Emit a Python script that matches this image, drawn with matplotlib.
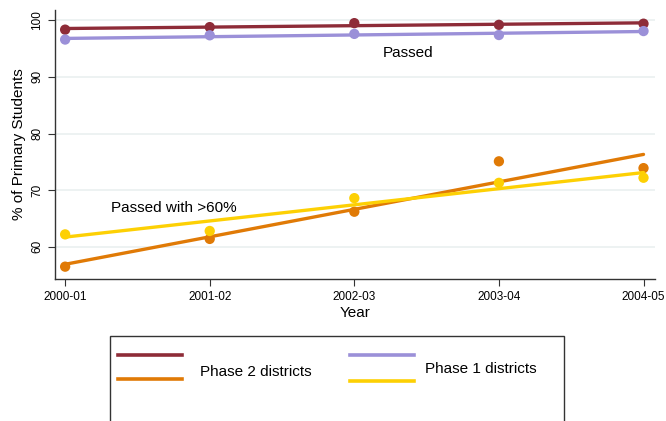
import numpy as np
import matplotlib
matplotlib.use("Agg")
import matplotlib.pyplot as plt
from matplotlib.lines import Line2D
from matplotlib.patches import Rectangle

plt.rcParams['font.family'] = ['Liberation Sans', 'DejaVu Sans']

years = ["2000-01", "2001-02", "2002-03", "2003-04", "2004-05"]
phase2_passed = [98.35, 98.8, 99.5, 99.2, 99.4]
phase1_passed = [96.6, 97.35, 97.6, 97.4, 98.1]
phase2_over60 = [56.5, 61.4, 66.2, 75.1, 73.9]
phase1_over60 = [62.2, 62.8, 68.6, 71.3, 72.2]

c_p2_pass = "#8e2c38"
c_p1_pass = "#9b90d8"
c_p2_60 = "#e07a06"
c_p1_60 = "#fdd004"

fig = plt.figure(figsize=(6.66, 4.21), dpi=100)
ax = fig.add_axes([0.0826, 0.337, 0.901, 0.639])

x = np.arange(len(years))
series = [
    (phase2_passed, c_p2_pass),
    (phase1_passed, c_p1_pass),
    (phase2_over60, c_p2_60),
    (phase1_over60, c_p1_60),
]
for vals, col in series:
    vals = np.asarray(vals)
    slope, icpt = np.polyfit(x, vals, 1)
    ax.scatter(x, vals, s=55, color=col, zorder=3, edgecolors='none')
    ax.plot(x, icpt + slope * x, color=col, lw=2.4, zorder=3, solid_capstyle='round')

ax.set_xlim(-0.07, 4.08)
ax.set_ylim(54.3, 101.8)
ax.set_xticks(x)
ax.set_xticklabels(years, fontsize=8.5)
ax.set_yticks([60, 70, 80, 90, 100])
ax.set_yticklabels(["60", "70", "80", "90", "100"], fontsize=8.5, rotation=90, va='center')
ax.grid(axis='y', color='#eaf0f0', lw=1.2)
ax.set_axisbelow(True)
for s in ['top', 'right']:
    ax.spines[s].set_visible(False)
for s in ['left', 'bottom']:
    ax.spines[s].set_color('#333333')
    ax.spines[s].set_linewidth(1.0)
ax.tick_params(axis='both', direction='out', length=5, width=0.8, color='#333333')
ax.set_xlabel("Year", fontsize=11, labelpad=2)
ax.set_ylabel("% of Primary Students", fontsize=11, labelpad=4)

ax.text(2.2, 94.3, "Passed", fontsize=11, va='center', ha='left')
ax.text(0.32, 66.9, "Passed with >60%", fontsize=11, va='center', ha='left')

# legend box drawn in figure pixels
W, H = 666, 421
def fx(px):
    return px / W
def fy(py):
    return 1 - py / H

fig.patches.append(Rectangle((fx(110), fy(430)), fx(564) - fx(110), fy(336) - fy(430),
                             transform=fig.transFigure, fill=False, edgecolor='#333333', lw=1.0))
legend_lines = [
    (118, 182, 355, c_p2_pass),
    (118, 182, 379, c_p2_60),
    (350, 414, 355, c_p1_pass),
    (350, 414, 381, c_p1_60),
]
for x0, x1, yy, col in legend_lines:
    fig.lines.append(Line2D([fx(x0), fx(x1)], [fy(yy), fy(yy)], transform=fig.transFigure,
                            color=col, lw=2.6))
fig.text(fx(200), fy(372), "Phase 2 districts", fontsize=11, va='center', ha='left')
fig.text(fx(425), fy(369), "Phase 1 districts", fontsize=11, va='center', ha='left')

fig.savefig("out.png", dpi=100)
